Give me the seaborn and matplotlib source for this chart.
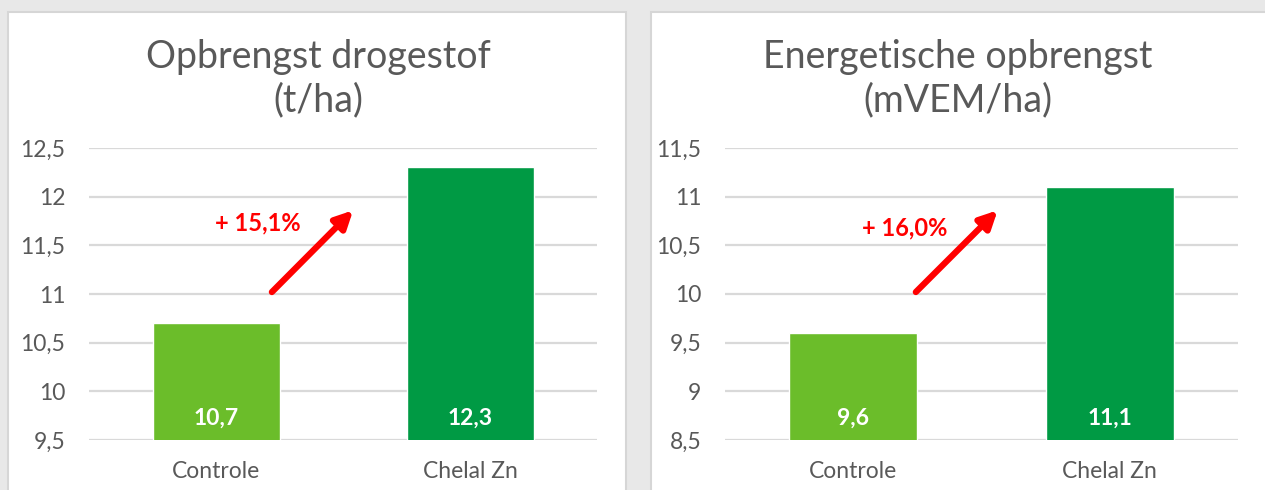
import matplotlib
matplotlib.use("Agg")
import matplotlib.pyplot as plt
from matplotlib.patches import Rectangle
import seaborn as sns
import pandas as pd

# --- data ---
categories = ["Controle", "Chelal Zn"]
drogestof = [10.7, 12.3]
energie = [9.6, 11.1]
pct_labels = ["+ 15,1%", "+ 16,0%"]
titles = ["Opbrengst drogestof\n(t/ha)", "Energetische opbrengst\n(mVEM/ha)"]
ylims = [(9.5, 12.5), (8.5, 11.5)]

bar_colors = ["#6BBD2A", "#009A44"]
text_grey = "#595959"

sns.set_theme(style="white")
plt.rcParams["font.family"] = ["Lato", "DejaVu Sans"]

fig = plt.figure(figsize=(12.65, 4.9), dpi=100, facecolor="#e8e8e8")

# white panels (behind the axes)
for x0, x1 in [(8, 626), (651, 1275)]:
    fig.patches.append(Rectangle((x0 / 1265, -0.01), (x1 - x0) / 1265, (490 - 12) / 490 + 0.01,
                                 transform=fig.transFigure, facecolor="white",
                                 edgecolor="#d6d6d6", lw=1.5, zorder=-5))

ax_pos = [[89 / 1265, 50 / 490, 508 / 1265, 292 / 490],
          [725 / 1265, 50 / 490, 513 / 1265, 292 / 490]]
title_x = [318 / 1265, 958 / 1265]
arrows = [((0.22, 11.02), (0.54, 11.86)), ((0.244, 10.02), (0.563, 10.86))]
pct_pos = [(0.165, 11.73), (0.2, 10.68)]

for i, vals in enumerate([drogestof, energie]):
    ax = fig.add_axes(ax_pos[i])
    ax.set_facecolor("none")
    df = pd.DataFrame({"cat": categories, "val": vals})
    sns.barplot(data=df, x="cat", y="val", hue="cat", palette=bar_colors,
                width=0.5, legend=False, ax=ax, zorder=3, saturation=1)
    lo, hi = ylims[i]
    ax.set_ylim(lo, hi)
    ax.set_xlim(-0.5, 1.5)
    ticks = [lo + 0.5 * k for k in range(7)]
    ax.set_yticks(ticks)
    ax.set_yticklabels([("%g" % t).replace(".", ",") for t in ticks])
    ax.yaxis.grid(True, color="#d9d9d9", lw=1.6, zorder=0)
    ax.set_axisbelow(True)
    for s in ax.spines.values():
        s.set_visible(False)
    ax.tick_params(axis="both", length=0, labelsize=16.5, labelcolor=text_grey)
    ax.tick_params(axis="x", pad=15)
    ax.tick_params(axis="y", pad=17)
    ax.set_xlabel("")
    ax.set_ylabel("")

    # values inside bars
    for j, v in enumerate(vals):
        ax.text(j, lo + 0.22, ("%.1f" % v).replace(".", ","), ha="center", va="center",
                color="white", fontsize=16.5, fontweight="bold", zorder=5)

    # arrow + percentage
    (x0, y0), (x1, y1) = arrows[i]
    ax.annotate("", xy=(x1, y1), xytext=(x0, y0),
                arrowprops=dict(arrowstyle="-|>", color="red", lw=4.5,
                                mutation_scale=26, shrinkA=0, shrinkB=0), zorder=6)
    ax.text(pct_pos[i][0], pct_pos[i][1], pct_labels[i], ha="center", va="center",
            color="red", fontsize=17, fontweight="bold")

    fig.text(title_x[i], 0.84, titles[i], ha="center", va="center",
             fontsize=27, color=text_grey, linespacing=1.25)

fig.savefig("out.png", dpi=100, facecolor=fig.get_facecolor())
